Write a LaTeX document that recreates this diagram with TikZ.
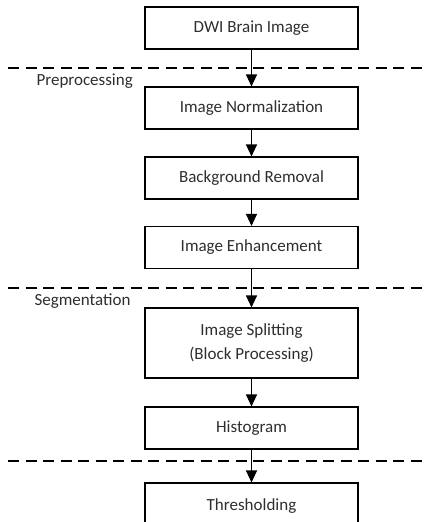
\documentclass[tikz,border=0pt]{standalone}
\usepackage{fontspec}
\setmainfont{Carlito}
\usepackage{tikz}
\usetikzlibrary{arrows.meta}

\tikzset{
	stage/.style={draw, line width=1.1pt, minimum width=213pt, minimum height=42pt,
		align=center, text=black!82, font=\fontsize{17}{24}\selectfont},
	flow/.style={-{Triangle[width=11pt,length=12pt]}, line width=1.1pt},
	sep/.style={line width=1.1pt, dash pattern=on 11pt off 6.5pt},
	part/.style={anchor=west, text=black!82, font=\fontsize{17}{20}\selectfont}
}

\begin{document}
\begin{tikzpicture}[x=1pt, y=-1pt]
	\useasboundingbox (0,0) rectangle (423,522);
	
	\node[stage] (dwi) at (251.5,28) {DWI Brain Image};
	\node[stage] (norm) at (251.5,108) {Image Normalization};
	\node[stage] (back) at (251.5,178) {Background Removal};
	\node[stage] (enh) at (251.5,247.5) {Image Enhancement};
	\node[stage, minimum height=70pt] (split) at (251.5,343) {Image Splitting\\(Block Processing)};
	\node[stage] (hist) at (251.5,428) {Histogram};
	\node[stage, minimum height=46pt] (thr) at (251.5,506) {Thresholding};
	
	\draw[sep] (8,68) -- (423,68);
	\draw[sep] (8,288) -- (423,288);
	\draw[sep] (8,461) -- (423,461);
	
	\node[part] (pre) at (33,81) {Preprocessing};
	\node[part] (seg) at (31,301) {Segmentation};
	
	\draw[flow] (dwi) -- (norm);
	\draw[flow] (norm) -- (back);
	\draw[flow] (back) -- (enh);
	\draw[flow] (enh) -- (split);
	\draw[flow] (split) -- (hist);
	\draw[flow] (hist) -- (thr);
\end{tikzpicture}
\end{document}
